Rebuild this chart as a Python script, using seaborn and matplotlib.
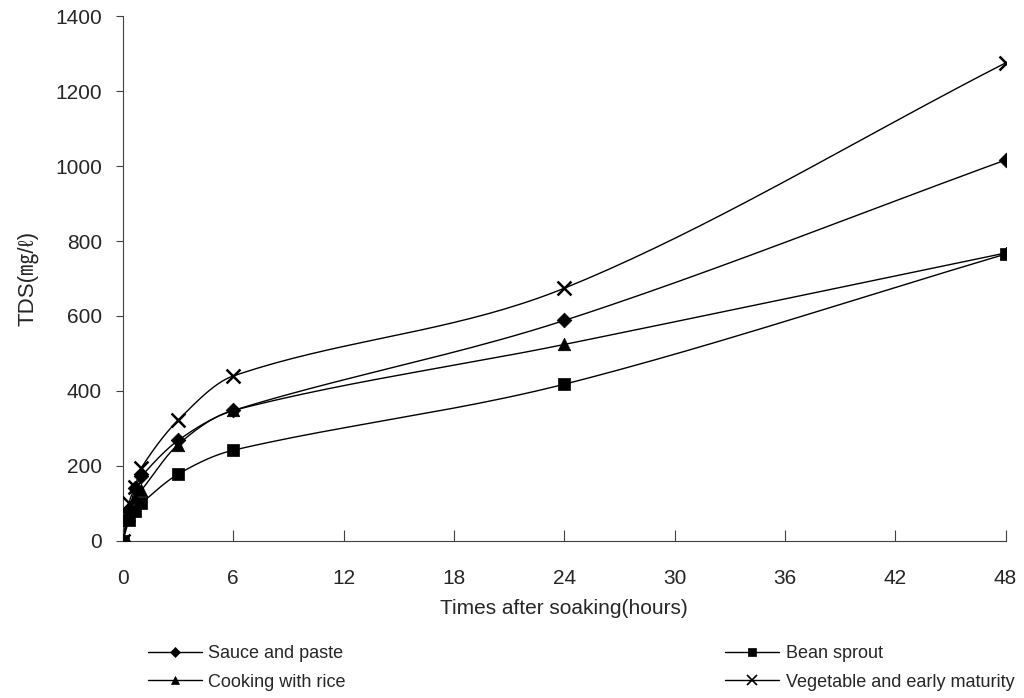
import numpy as np
import pandas as pd
import seaborn as sns
import matplotlib.pyplot as plt
from matplotlib.lines import Line2D

# data (hours after soaking, TDS mg/l)
hours = [0, 1/3, 2/3, 1, 3, 6, 24, 48]
sauce = [0, 80, 140, 172, 268, 348, 588, 1016]
bean = [0, 55, 80, 100, 178, 242, 418, 765]
rice = [0, 70, 115, 135, 257, 348, 524, 768]
veg = [0, 100, 145, 195, 322, 440, 674, 1275]

names = ['Sauce and paste', 'Bean sprout', 'Cooking with rice', 'Vegetable and early maturity']
markers = ['D', 's', '^', 'x']
sizes = [7.5, 8.5, 9, 10]
series = [sauce, bean, rice, veg]

sns.set_style('ticks')
plt.rcParams['font.family'] = ['Liberation Sans', 'Noto Sans CJK KR', 'DejaVu Sans']


def smooth(x, y, n=40):
    # smoothed line through the points: cubic Hermite with centred slopes
    x = np.asarray(x, float)
    y = np.asarray(y, float)
    m = np.zeros_like(y)
    m[0] = (y[1] - y[0]) / (x[1] - x[0])
    m[-1] = (y[-1] - y[-2]) / (x[-1] - x[-2])
    m[1:-1] = (y[2:] - y[:-2]) / (x[2:] - x[:-2])
    xs, ys = [], []
    for i in range(len(x) - 1):
        h = x[i + 1] - x[i]
        t = np.linspace(0, 1, n)
        h00 = 2 * t ** 3 - 3 * t ** 2 + 1
        h10 = t ** 3 - 2 * t ** 2 + t
        h01 = -2 * t ** 3 + 3 * t ** 2
        h11 = t ** 3 - t ** 2
        xs.extend(x[i] + t * h)
        ys.extend(h00 * y[i] + h10 * h * m[i] + h01 * y[i + 1] + h11 * h * m[i + 1])
    return xs, ys


fig = plt.figure(figsize=(10.24, 6.98), dpi=100)
ax = fig.add_axes([0.120, 0.225, 0.862, 0.752])

for name, vals, mk, s in zip(names, series, markers, sizes):
    sx, sy = smooth(hours, vals)
    sns.lineplot(x=sx, y=sy, ax=ax, color='black', linewidth=1, sort=False, estimator=None)
    df = pd.DataFrame({'h': hours, 'v': vals})
    if mk == 'x':
        sns.scatterplot(data=df, x='h', y='v', ax=ax, marker='x', s=s ** 2, color='black',
                        linewidth=1.8, zorder=3)
    else:
        sns.scatterplot(data=df, x='h', y='v', ax=ax, marker=mk, s=s ** 2, color='black',
                        edgecolor='black', linewidth=0.5, zorder=3)

ax.set_xlim(0, 48)
ax.set_ylim(0, 1400)
ax.set_xticks(range(0, 49, 6))
ax.set_yticks(range(0, 1401, 200))
ax.tick_params(axis='x', direction='in', length=8, labelsize=15, pad=20, color='#404040')
ax.tick_params(axis='y', direction='out', length=5, labelsize=15, pad=10, color='#404040')
ax.set_xlabel('Times after soaking(hours)', fontsize=15, labelpad=8)
ax.set_ylabel('TDS(㎎/ℓ)', fontsize=16, labelpad=12)
sns.despine(ax=ax)
for sp in ['left', 'bottom']:
    ax.spines[sp].set_color('#404040')

order = [0, 2, 1, 3]  # legend fills columns first
handles = [Line2D([0], [0], color='black', linewidth=1, marker=markers[i],
                  markersize=sizes[i] * 0.7, markeredgewidth=1.2 if markers[i] == 'x' else 0.5)
           for i in order]
fig.legend(handles, [names[i] for i in order], loc='upper left',
           bbox_to_anchor=(0.1445, 0.076), ncol=2, frameon=False, fontsize=13,
           handlelength=3.0, columnspacing=21, labelspacing=0.65, handletextpad=0.35,
           borderpad=0, borderaxespad=0)

fig.savefig('out.png', dpi=100)
